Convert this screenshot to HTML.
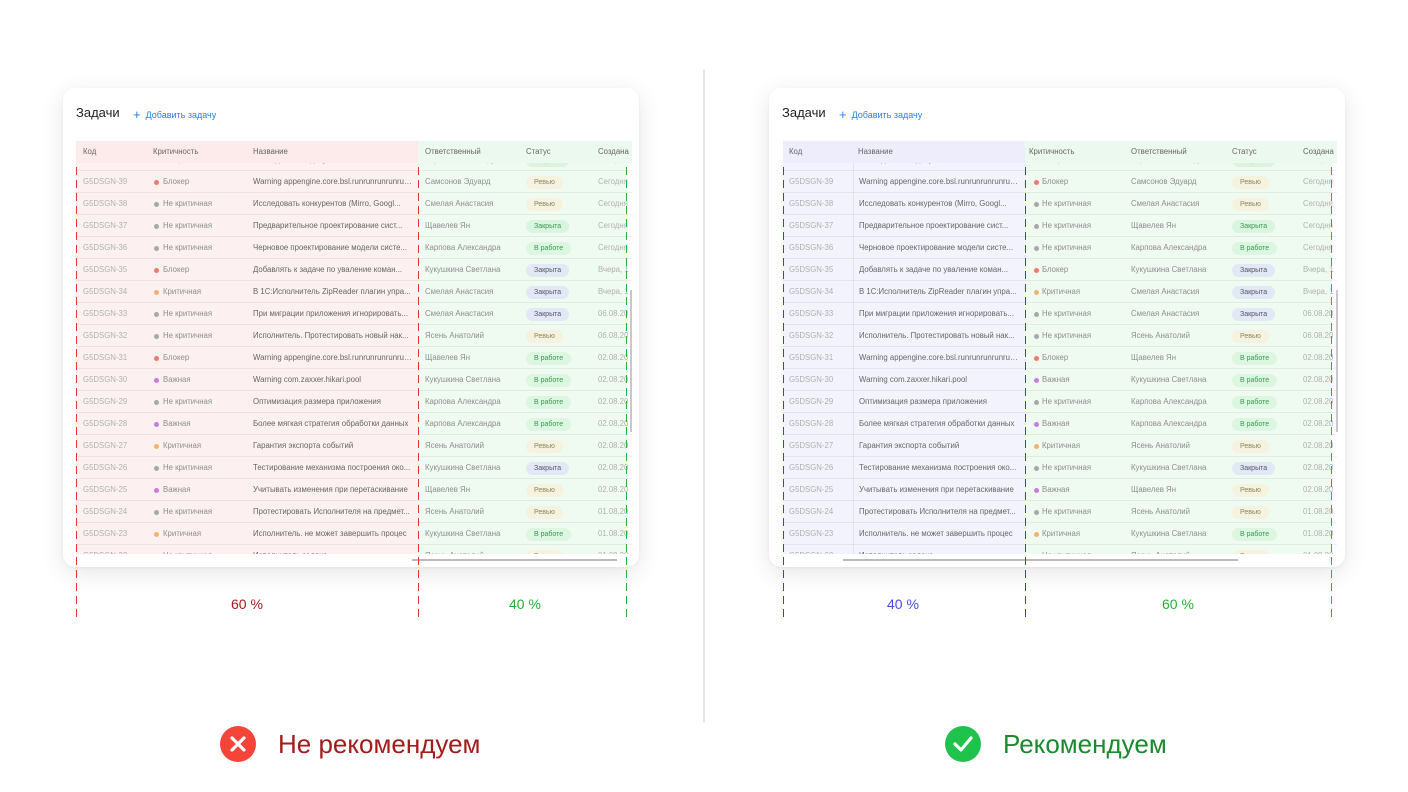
<!DOCTYPE html>
<html><head><meta charset="utf-8"><style>
*{margin:0;padding:0;box-sizing:border-box}
body{width:1408px;height:792px;background:#fff;position:relative;overflow:hidden;font-family:"Liberation Sans","DejaVu Sans",sans-serif}
.card{position:absolute;top:88px;width:576px;height:479px;background:#fff;border-radius:12px;box-shadow:0 6px 24px rgba(0,0,0,0.10),0 1px 3px rgba(0,0,0,0.05)}
.ttl{position:absolute;left:13px;top:17px;font-size:13px;color:#222}
.add{position:absolute;left:70px;top:18px;font-size:9px;color:#2b7ff0}
.add b{font-weight:normal;font-size:13px;position:relative;top:1px;margin-right:5px}
.tb{position:absolute;top:141px;height:413px;overflow:hidden}
.bg{position:absolute;top:0;bottom:0}
.hd{position:absolute;left:0;right:0;top:0;height:22px;font-size:7.8px;color:#666;z-index:2}
.hd span{position:absolute;top:0;line-height:22px}
.r{position:absolute;left:0;right:0;height:22px;border-bottom:1px solid rgba(0,0,0,0.06);font-size:7.8px}
.r i{position:absolute;top:0;line-height:22px;font-style:normal;white-space:nowrap}
.r .k{color:#b0b0b0}.r .v{color:#8e8e8e}.r .n{color:#666;width:160px;overflow:hidden;text-overflow:ellipsis}.r .p{color:#8e8e8e}.r .t{color:#b0b0b0}
.r .d{width:5px;height:5px;border-radius:50%;top:8.5px}
.r b{position:absolute;top:5px;height:13px;line-height:13px;padding:0 8px;border-radius:7px;font-weight:normal;font-size:7px}
.rv{background:#f5f3df;color:#8a8560}.zg{background:#daf4df;color:#3a9a50}.wk{background:#dcf6e1;color:#3a9a50}.zb{background:#e2e8f6;color:#556}
.L .k{left:7px}.L .d{left:78px}.L .v{left:87px}.L .n{left:177px}.L .p{left:349px}.L b{left:450px}.L .t{left:522px}
.R .k{left:6px}.R .d{left:251px}.R .v{left:259px}.R .n{left:76px}.R .p{left:348px}.R b{left:449px}.R .t{left:520px}
.pct{position:absolute;top:596px;font-size:14px}
.big{position:absolute;top:729px;font-size:26px}
</style></head><body>

<div class="card" style="left:63px">
<div class="ttl">Задачи</div><div class="add"><b>+</b>Добавить задачу</div>
</div>
<div class="card" style="left:769px">
<div class="ttl">Задачи</div><div class="add"><b>+</b>Добавить задачу</div>
</div>

<!-- Left table -->
<div class="tb L" style="left:76px;width:556px">
<div class="bg" style="left:0;width:342px;background:#fdf0f0"></div>
<div class="bg" style="left:342px;width:208px;background:#effbf1"></div>
<div class="hd"><div style="position:absolute;left:0;width:342px;height:22px;background:#fdeaea"></div><div style="position:absolute;left:342px;width:214px;height:22px;background:#ecf9ee"></div>
<span style="left:7px">Код</span><span style="left:77px">Критичность</span><span style="left:177px">Название</span><span style="left:349px">Ответственный</span><span style="left:450px">Статус</span><span style="left:522px">Создана</span></div>
<div class="r" style="top:8px"><i class="k">G5DSGN-40</i><i class="d" style="background:#aaa"></i><i class="v">Не критичная</i><i class="n">Исследовать задачу</i><i class="p">Карпова Александра</i><b class="zg">Закрыта</b><i class="t">Сегодня</i></div>
<div class="r" style="top:30px"><i class="k">G5DSGN-39</i><i class="d" style="background:#f07a6a"></i><i class="v">Блокер</i><i class="n">Warning appengine.core.bsl.runrunrunrunrun...</i><i class="p">Самсонов Эдуард</i><b class="rv">Ревью</b><i class="t">Сегодня</i></div>
<div class="r" style="top:52px"><i class="k">G5DSGN-38</i><i class="d" style="background:#a8a8a8"></i><i class="v">Не критичная</i><i class="n">Исследовать конкурентов (Mirro, Googl...</i><i class="p">Смелая Анастасия</i><b class="rv">Ревью</b><i class="t">Сегодня</i></div>
<div class="r" style="top:74px"><i class="k">G5DSGN-37</i><i class="d" style="background:#a8a8a8"></i><i class="v">Не критичная</i><i class="n">Предварительное проектирование сист...</i><i class="p">Щавелев Ян</i><b class="zg">Закрыта</b><i class="t">Сегодня</i></div>
<div class="r" style="top:96px"><i class="k">G5DSGN-36</i><i class="d" style="background:#a8a8a8"></i><i class="v">Не критичная</i><i class="n">Черновое проектирование модели систе...</i><i class="p">Карпова Александра</i><b class="wk">В работе</b><i class="t">Сегодня</i></div>
<div class="r" style="top:118px"><i class="k">G5DSGN-35</i><i class="d" style="background:#f07a6a"></i><i class="v">Блокер</i><i class="n">Добавлять к задаче по уваление коман...</i><i class="p">Кукушкина Светлана</i><b class="zb">Закрыта</b><i class="t">Вчера, 1</i></div>
<div class="r" style="top:140px"><i class="k">G5DSGN-34</i><i class="d" style="background:#f6b26b"></i><i class="v">Критичная</i><i class="n">В 1С:Исполнитель ZipReader плагин упра...</i><i class="p">Смелая Анастасия</i><b class="zb">Закрыта</b><i class="t">Вчера, 1</i></div>
<div class="r" style="top:162px"><i class="k">G5DSGN-33</i><i class="d" style="background:#a8a8a8"></i><i class="v">Не критичная</i><i class="n">При миграции приложения игнорировать...</i><i class="p">Смелая Анастасия</i><b class="zb">Закрыта</b><i class="t">06.08.20</i></div>
<div class="r" style="top:184px"><i class="k">G5DSGN-32</i><i class="d" style="background:#a8a8a8"></i><i class="v">Не критичная</i><i class="n">Исполнитель. Протестировать новый нак...</i><i class="p">Ясень Анатолий</i><b class="rv">Ревью</b><i class="t">06.08.20</i></div>
<div class="r" style="top:206px"><i class="k">G5DSGN-31</i><i class="d" style="background:#f07a6a"></i><i class="v">Блокер</i><i class="n">Warning appengine.core.bsl.runrunrunrunrun...</i><i class="p">Щавелев Ян</i><b class="wk">В работе</b><i class="t">02.08.20</i></div>
<div class="r" style="top:228px"><i class="k">G5DSGN-30</i><i class="d" style="background:#c77de0"></i><i class="v">Важная</i><i class="n">Warning com.zaxxer.hikari.pool</i><i class="p">Кукушкина Светлана</i><b class="wk">В работе</b><i class="t">02.08.20</i></div>
<div class="r" style="top:250px"><i class="k">G5DSGN-29</i><i class="d" style="background:#a8a8a8"></i><i class="v">Не критичная</i><i class="n">Оптимизация размера приложения</i><i class="p">Карпова Александра</i><b class="wk">В работе</b><i class="t">02.08.20</i></div>
<div class="r" style="top:272px"><i class="k">G5DSGN-28</i><i class="d" style="background:#c77de0"></i><i class="v">Важная</i><i class="n">Более мягкая стратегия обработки данных</i><i class="p">Карпова Александра</i><b class="wk">В работе</b><i class="t">02.08.20</i></div>
<div class="r" style="top:294px"><i class="k">G5DSGN-27</i><i class="d" style="background:#f6b26b"></i><i class="v">Критичная</i><i class="n">Гарантия экспорта событий</i><i class="p">Ясень Анатолий</i><b class="rv">Ревью</b><i class="t">02.08.20</i></div>
<div class="r" style="top:316px"><i class="k">G5DSGN-26</i><i class="d" style="background:#a8a8a8"></i><i class="v">Не критичная</i><i class="n">Тестирование механизма построения око...</i><i class="p">Кукушкина Светлана</i><b class="zb">Закрыта</b><i class="t">02.08.20</i></div>
<div class="r" style="top:338px"><i class="k">G5DSGN-25</i><i class="d" style="background:#c77de0"></i><i class="v">Важная</i><i class="n">Учитывать изменения при перетаскивание</i><i class="p">Щавелев Ян</i><b class="rv">Ревью</b><i class="t">02.08.20</i></div>
<div class="r" style="top:360px"><i class="k">G5DSGN-24</i><i class="d" style="background:#a8a8a8"></i><i class="v">Не критичная</i><i class="n">Протестировать Исполнителя на предмет...</i><i class="p">Ясень Анатолий</i><b class="rv">Ревью</b><i class="t">01.08.20</i></div>
<div class="r" style="top:382px"><i class="k">G5DSGN-23</i><i class="d" style="background:#f6b26b"></i><i class="v">Критичная</i><i class="n">Исполнитель. не может завершить процес</i><i class="p">Кукушкина Светлана</i><b class="wk">В работе</b><i class="t">01.08.20</i></div>
<div class="r" style="top:404px"><i class="k">G5DSGN-22</i><i class="d" style="background:#a8a8a8"></i><i class="v">Не критичная</i><i class="n">Исполнитель задача</i><i class="p">Ясень Анатолий</i><b class="rv">Ревью</b><i class="t">01.08.20</i></div>
</div>

<!-- Right table -->
<div class="tb R" style="left:783px;width:554px">
<div class="bg" style="left:0;width:242px;background:#f3f3fd"></div>
<div class="bg" style="left:242px;width:306px;background:#effbf1"></div>
<div class="bg" style="left:70px;width:1px;background:#e2e2f2"></div>
<div class="hd"><div style="position:absolute;left:0;width:242px;height:22px;background:#ededfc"></div><div style="position:absolute;left:242px;width:312px;height:22px;background:#ecf9ee"></div>
<span style="left:6px">Код</span><span style="left:75px">Название</span><span style="left:246px">Критичность</span><span style="left:348px">Ответственный</span><span style="left:449px">Статус</span><span style="left:520px">Создана</span></div>
<div class="r" style="top:8px"><i class="k">G5DSGN-40</i><i class="d" style="background:#aaa"></i><i class="v">Не критичная</i><i class="n">Исследовать задачу</i><i class="p">Карпова Александра</i><b class="zg">Закрыта</b><i class="t">Сегодня</i></div>
<div class="r" style="top:30px"><i class="k">G5DSGN-39</i><i class="d" style="background:#f07a6a"></i><i class="v">Блокер</i><i class="n">Warning appengine.core.bsl.runrunrunrunrun...</i><i class="p">Самсонов Эдуард</i><b class="rv">Ревью</b><i class="t">Сегодня</i></div>
<div class="r" style="top:52px"><i class="k">G5DSGN-38</i><i class="d" style="background:#a8a8a8"></i><i class="v">Не критичная</i><i class="n">Исследовать конкурентов (Mirro, Googl...</i><i class="p">Смелая Анастасия</i><b class="rv">Ревью</b><i class="t">Сегодня</i></div>
<div class="r" style="top:74px"><i class="k">G5DSGN-37</i><i class="d" style="background:#a8a8a8"></i><i class="v">Не критичная</i><i class="n">Предварительное проектирование сист...</i><i class="p">Щавелев Ян</i><b class="zg">Закрыта</b><i class="t">Сегодня</i></div>
<div class="r" style="top:96px"><i class="k">G5DSGN-36</i><i class="d" style="background:#a8a8a8"></i><i class="v">Не критичная</i><i class="n">Черновое проектирование модели систе...</i><i class="p">Карпова Александра</i><b class="wk">В работе</b><i class="t">Сегодня</i></div>
<div class="r" style="top:118px"><i class="k">G5DSGN-35</i><i class="d" style="background:#f07a6a"></i><i class="v">Блокер</i><i class="n">Добавлять к задаче по уваление коман...</i><i class="p">Кукушкина Светлана</i><b class="zb">Закрыта</b><i class="t">Вчера, 1</i></div>
<div class="r" style="top:140px"><i class="k">G5DSGN-34</i><i class="d" style="background:#f6b26b"></i><i class="v">Критичная</i><i class="n">В 1С:Исполнитель ZipReader плагин упра...</i><i class="p">Смелая Анастасия</i><b class="zb">Закрыта</b><i class="t">Вчера, 1</i></div>
<div class="r" style="top:162px"><i class="k">G5DSGN-33</i><i class="d" style="background:#a8a8a8"></i><i class="v">Не критичная</i><i class="n">При миграции приложения игнорировать...</i><i class="p">Смелая Анастасия</i><b class="zb">Закрыта</b><i class="t">06.08.20</i></div>
<div class="r" style="top:184px"><i class="k">G5DSGN-32</i><i class="d" style="background:#a8a8a8"></i><i class="v">Не критичная</i><i class="n">Исполнитель. Протестировать новый нак...</i><i class="p">Ясень Анатолий</i><b class="rv">Ревью</b><i class="t">06.08.20</i></div>
<div class="r" style="top:206px"><i class="k">G5DSGN-31</i><i class="d" style="background:#f07a6a"></i><i class="v">Блокер</i><i class="n">Warning appengine.core.bsl.runrunrunrunrun...</i><i class="p">Щавелев Ян</i><b class="wk">В работе</b><i class="t">02.08.20</i></div>
<div class="r" style="top:228px"><i class="k">G5DSGN-30</i><i class="d" style="background:#c77de0"></i><i class="v">Важная</i><i class="n">Warning com.zaxxer.hikari.pool</i><i class="p">Кукушкина Светлана</i><b class="wk">В работе</b><i class="t">02.08.20</i></div>
<div class="r" style="top:250px"><i class="k">G5DSGN-29</i><i class="d" style="background:#a8a8a8"></i><i class="v">Не критичная</i><i class="n">Оптимизация размера приложения</i><i class="p">Карпова Александра</i><b class="wk">В работе</b><i class="t">02.08.20</i></div>
<div class="r" style="top:272px"><i class="k">G5DSGN-28</i><i class="d" style="background:#c77de0"></i><i class="v">Важная</i><i class="n">Более мягкая стратегия обработки данных</i><i class="p">Карпова Александра</i><b class="wk">В работе</b><i class="t">02.08.20</i></div>
<div class="r" style="top:294px"><i class="k">G5DSGN-27</i><i class="d" style="background:#f6b26b"></i><i class="v">Критичная</i><i class="n">Гарантия экспорта событий</i><i class="p">Ясень Анатолий</i><b class="rv">Ревью</b><i class="t">02.08.20</i></div>
<div class="r" style="top:316px"><i class="k">G5DSGN-26</i><i class="d" style="background:#a8a8a8"></i><i class="v">Не критичная</i><i class="n">Тестирование механизма построения око...</i><i class="p">Кукушкина Светлана</i><b class="zb">Закрыта</b><i class="t">02.08.20</i></div>
<div class="r" style="top:338px"><i class="k">G5DSGN-25</i><i class="d" style="background:#c77de0"></i><i class="v">Важная</i><i class="n">Учитывать изменения при перетаскивание</i><i class="p">Щавелев Ян</i><b class="rv">Ревью</b><i class="t">02.08.20</i></div>
<div class="r" style="top:360px"><i class="k">G5DSGN-24</i><i class="d" style="background:#a8a8a8"></i><i class="v">Не критичная</i><i class="n">Протестировать Исполнителя на предмет...</i><i class="p">Ясень Анатолий</i><b class="rv">Ревью</b><i class="t">01.08.20</i></div>
<div class="r" style="top:382px"><i class="k">G5DSGN-23</i><i class="d" style="background:#f6b26b"></i><i class="v">Критичная</i><i class="n">Исполнитель. не может завершить процес</i><i class="p">Кукушкина Светлана</i><b class="wk">В работе</b><i class="t">01.08.20</i></div>
<div class="r" style="top:404px"><i class="k">G5DSGN-22</i><i class="d" style="background:#a8a8a8"></i><i class="v">Не критичная</i><i class="n">Исполнитель задача</i><i class="p">Ясень Анатолий</i><b class="rv">Ревью</b><i class="t">01.08.20</i></div>
</div>

<svg width="1408" height="792" style="position:absolute;left:0;top:0">
<line x1="704" y1="70" x2="704" y2="722" stroke="#e6e6e6" stroke-width="2"/>
<line x1="631" y1="290" x2="631" y2="432" stroke="#c8c8c8" stroke-width="2"/>
<line x1="412" y1="560" x2="617" y2="560" stroke="#bbb" stroke-width="2"/>
<line x1="1337" y1="290" x2="1337" y2="432" stroke="#c8c8c8" stroke-width="2"/>
<line x1="843" y1="560" x2="1238" y2="560" stroke="#bbb" stroke-width="2"/>
<g stroke-width="1" stroke-dasharray="8 5" fill="none">
<line x1="76.5" y1="141" x2="76.5" y2="622" stroke="#f03030"/>
<line x1="418.5" y1="141" x2="418.5" y2="622" stroke="#f03030"/>
<line x1="626.5" y1="141" x2="626.5" y2="622" stroke="#28b43c"/>
<line x1="783.5" y1="141" x2="783.5" y2="622" stroke="#3a3af0"/>
<line x1="1025.5" y1="141" x2="1025.5" y2="622" stroke="#3a3af0"/>
<line x1="1331.5" y1="141" x2="1331.5" y2="622" stroke="#28b43c"/>
</g>
<circle cx="238" cy="744" r="18" fill="#f5443a"/>
<path d="M232 738 L244 750 M244 738 L232 750" stroke="#fff" stroke-width="3.2" stroke-linecap="round"/>
<circle cx="963" cy="744" r="18" fill="#1fc24a"/>
<path d="M955 744 L961 750 L971 738" stroke="#fff" stroke-width="3.2" fill="none" stroke-linecap="round" stroke-linejoin="round"/>
</svg>

<div class="pct" style="left:231px;color:#a31b1b">60 %</div>
<div class="pct" style="left:509px;color:#22b03a">40 %</div>
<div class="pct" style="left:887px;color:#4a4ae8">40 %</div>
<div class="pct" style="left:1162px;color:#22b03a">60 %</div>
<div class="big" style="left:278px;color:#a31b1b">Не рекомендуем</div>
<div class="big" style="left:1003px;color:#1a8a2e">Рекомендуем</div>
</body></html>
